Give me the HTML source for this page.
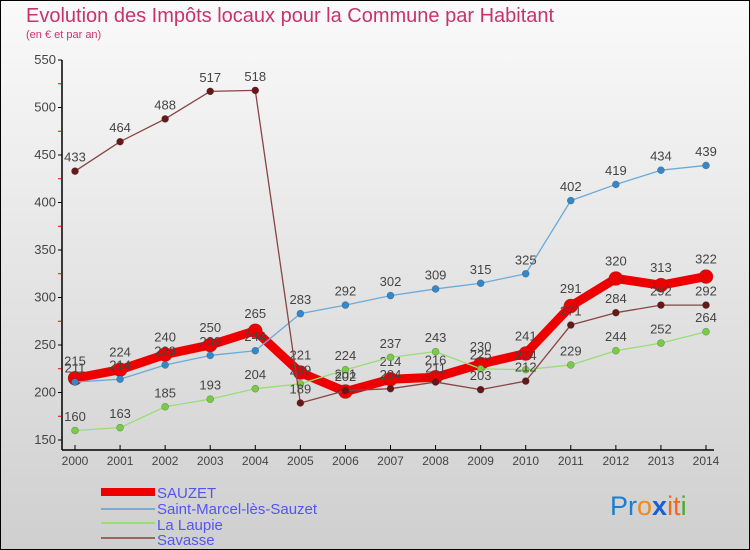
<!DOCTYPE html>
<html><head><meta charset="utf-8">
<style>
body{margin:0;}
#wrap{width:750px;height:550px;position:relative;overflow:hidden;font-family:"Liberation Sans",sans-serif;}
</style></head>
<body>
<div id="wrap">
<svg id="chart" width="750" height="550" xmlns="http://www.w3.org/2000/svg">
<defs>
<linearGradient id="bg" x1="0" y1="0" x2="0" y2="1">
<stop offset="0" stop-color="#fafafa"/><stop offset="1" stop-color="#cfcfcf"/>
</linearGradient>
</defs>
<rect x="0" y="0" width="750" height="550" fill="url(#bg)" stroke="#000" stroke-width="2"/>
<text x="26" y="22" font-size="20" fill="#c8336a" font-family="Liberation Sans,sans-serif">Evolution des Impôts locaux pour la Commune par Habitant</text>
<text x="26" y="38" font-size="11" fill="#c8336a" font-family="Liberation Sans,sans-serif">(en € et par an)</text>
<g id="axes"></g>
<g id="series"></g>
<g id="legend" font-family="Liberation Sans,sans-serif">
<rect x="101" y="488" width="54" height="8" fill="#ee0000"/>
<text x="157" y="498" font-size="15" fill="#5555ee">SAUZET</text>
<rect x="101" y="508" width="54" height="2" fill="#7aaccc"/>
<text x="157" y="514" font-size="15" fill="#5555ee">Saint-Marcel-lès-Sauzet</text>
<rect x="101" y="522" width="54" height="2" fill="#99dd77"/>
<text x="157" y="530" font-size="15" fill="#5555ee">La Laupie</text>
<rect x="101" y="537" width="54" height="2" fill="#996666"/>
<text x="157" y="545" font-size="15" fill="#5555ee">Savasse</text>
</g>
<text x="610" y="515" font-size="27" font-family="Liberation Sans,sans-serif"><tspan fill="#1a7fd0">Pr</tspan><tspan fill="#ee8a1a">o</tspan><tspan fill="#1a5fd0" font-weight="bold">x</tspan><tspan fill="#ee6a1a">it</tspan><tspan fill="#4aaa2a">i</tspan></text>
</svg>
</div>
<script>
const years = [2000,2001,2002,2003,2004,2005,2006,2007,2008,2009,2010,2011,2012,2013,2014];
const sauzet = [215,224,240,250,265,221,201,214,216,230,241,291,320,313,322];
const saintMarcel = [211,214,229,239,244,283,292,302,309,315,325,402,419,434,439];
const laLaupie = [160,163,185,193,204,209,224,237,243,225,224,229,244,252,264];
const savasse = [433,464,488,517,518,189,202,204,211,203,212,271,284,292,292];
const yTicks = [150,200,250,300,350,400,450,500,550];

const NS = "http://www.w3.org/2000/svg";
const xS = i => 75 + i * (706 - 75) / (years.length - 1);
const yS = v => 440 - (v - 150) * (380 / 400);
function mk(tag, attrs, parent){const e=document.createElementNS(NS,tag);for(const k in attrs)e.setAttribute(k,attrs[k]);parent.appendChild(e);return e;}
const axes = document.getElementById('axes');
const ser = document.getElementById('series');

let yl = mk('line',{x1:62,y1:60,x2:62,y2:450,stroke:'#000','stroke-width':1.5},axes);


let xl = mk('line',{x1:62,y1:450,x2:714,y2:450,stroke:'#000','stroke-width':1.5},axes);


yTicks.forEach(v=>{
  const y=yS(v);
  mk('line',{x1:58,y1:y,x2:62,y2:y,stroke:'#000'},axes);
  const t=mk('text',{x:56,y:y+4,'font-size':13,fill:'#444','text-anchor':'end'},axes);
  t.textContent=v;
  
  
  if(v<550){mk('line',{x1:58,y1:yS(v+25),x2:61,y2:yS(v+25),stroke:'#ee0000'},axes);}
});
years.forEach((yr,i)=>{
  const x=xS(i);
  mk('line',{x1:x,y1:445,x2:x,y2:450,stroke:'#000'},axes);
  const t=mk('text',{x:x,y:465,'font-size':12,fill:'#444','text-anchor':'middle'},axes);
  t.textContent=yr;
  
  
});

function drawSeries(vals,color,dot,width,r,name){
  const g=mk('g',{},ser);
  
  
  const p=mk('polyline',{points:vals.map((v,i)=>xS(i)+','+yS(v)).join(' '),fill:'none',stroke:color,'stroke-width':width,'stroke-linejoin':'round'},g);
  
  
  vals.forEach((v,i)=>{
    const c=mk('circle',{cx:xS(i),cy:yS(v),r:r,fill:dot,stroke:'#333','stroke-opacity':0.4,'stroke-width':0.6},g);
    
    
    const t=mk('text',{x:xS(i),y:yS(v)-(r+6),'font-size':13,fill:'#444','text-anchor':'middle'},g);
    t.textContent=v;
    
    
  });
}
drawSeries(sauzet,'#ee0000','#ee0000',9,7,'sauzet');
drawSeries(saintMarcel,'#6aaad8','#3388cc',1.3,3.5,'saint-marcel');
drawSeries(laLaupie,'#99dd77','#77cc44',1.3,3.5,'la-laupie');
drawSeries(savasse,'#884444','#661818',1.3,3.5,'savasse');
</script>
</body></html>
